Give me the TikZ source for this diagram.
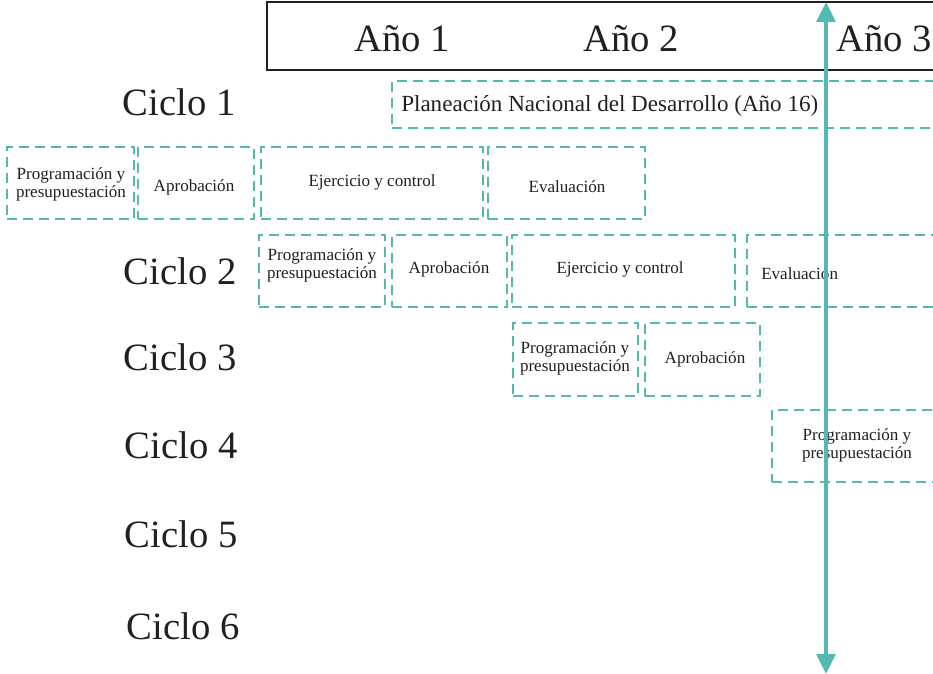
\documentclass[tikz,border=0pt]{standalone}
\usepackage{fontspec}
\setmainfont{Liberation Serif}
\usetikzlibrary{arrows.meta}
\definecolor{teal}{RGB}{82,186,177}
\definecolor{ink}{RGB}{35,31,32}
\tikzset{
  phasebox/.style={draw=teal, line width=1.3pt, dash pattern=on 7.5pt off 4.5pt,
    inner sep=0pt, align=center, text=ink, font=\fontsize{12.8}{13.5}\selectfont},
  phasetext/.style={inner sep=0pt, align=center, text=ink, font=\fontsize{12.8}{13.5}\selectfont},
  cyclelabel/.style={inner sep=0pt, text=ink, font=\fontsize{29}{32}\selectfont},
  yearlabel/.style={inner sep=0pt, text=ink, font=\fontsize{29}{32}\selectfont},
  timeline/.style={draw=teal, line width=3pt,
    {Triangle[width=14pt,length=15pt]}-{Triangle[width=14pt,length=15pt]}},
}
% \phase{name}{x1}{y1}{x2}{y2}{text}: dashed box spanning the given corners
\newcommand{\phase}[6]{%
  \node[phasebox, minimum width={(#4-#2)*0.75pt}, minimum height={(#5-#3)*0.75pt}]
    (#1) at ({(#2+#4)/2},{(#3+#5)/2}) {#6};}
\begin{document}
\begin{tikzpicture}[x=0.75pt,y=-0.75pt]
\useasboundingbox (0,0) rectangle (933,674);
\begin{scope}
\clip (0,0) rectangle (933,674);

% header with the years
\node[draw=ink, line width=1.1pt, minimum width={(960-267)*0.75pt},
  minimum height={68*0.75pt}, inner sep=0pt] (years) at ({(267+960)/2},36) {};
\node[yearlabel] (y1) at (402,39) {Año 1};
\node[yearlabel] (y2) at (631,39) {Año 2};
\node[yearlabel, anchor=west] (y3) at (836,39) {Año 3};

% cycle labels
\node[cyclelabel] (c1) at (179,102) {Ciclo 1};
\node[cyclelabel] (c2) at (180,271) {Ciclo 2};
\node[cyclelabel] (c3) at (180,357) {Ciclo 3};
\node[cyclelabel] (c4) at (181,445) {Ciclo 4};
\node[cyclelabel] (c5) at (181,534) {Ciclo 5};
\node[cyclelabel] (c6) at (183,626) {Ciclo 6};

% national plan
\phase{plan}{392}{81}{960}{128}{}
\node[phasetext, anchor=west, font=\fontsize{17.3}{19}\selectfont] (plantext) at (401,106)
  {Planeación Nacional del Desarrollo (Año 16)};

% cycle 1
\node[phasetext] (p1text) at (71,184) {Programación y\\presupuestación};
\phase{p1}{7}{147}{134}{219}{}
\phase{a1}{138}{147}{254}{219}{}
\node[phasetext] (a1text) at (194,187) {Aprobación};
\phase{e1}{261}{147}{483}{219}{}
\node[phasetext] (e1text) at (372,182) {Ejercicio y control};
\phase{v1}{488}{147}{645}{219}{}
\node[phasetext] (v1text) at (567,187) {Evaluación};

% cycle 2
\phase{p2}{259}{235}{385}{307}{}
\node[phasetext] (p2text) at (322,265) {Programación y\\presupuestación};
\phase{a2}{392}{235}{507}{307}{}
\node[phasetext] (a2text) at (449,269) {Aprobación};
\phase{e2}{512}{235}{735}{307}{}
\node[phasetext] (e2text) at (620,269) {Ejercicio y control};
\phase{v2}{747}{235}{960}{307}{}
\node[phasetext, anchor=west] (v2text) at (761,274) {Evaluación};

% cycle 3
\phase{p3}{513}{323}{638}{396}{}
\node[phasetext] (p3text) at (575,358) {Programación y\\presupuestación};
\phase{a3}{645}{323}{760}{396}{}
\node[phasetext] (a3text) at (705,359) {Aprobación};

% cycle 4
\phase{p4}{772}{410}{960}{482}{}
\node[phasetext] (p4text) at (857,445) {Programación y\\presupuestación};

% current moment
\coordinate (nowtop) at (826,2);
\coordinate (nowbottom) at (826,674);
\draw[timeline] (nowbottom) -- (nowtop);
\end{scope}
\end{tikzpicture}
\end{document}
